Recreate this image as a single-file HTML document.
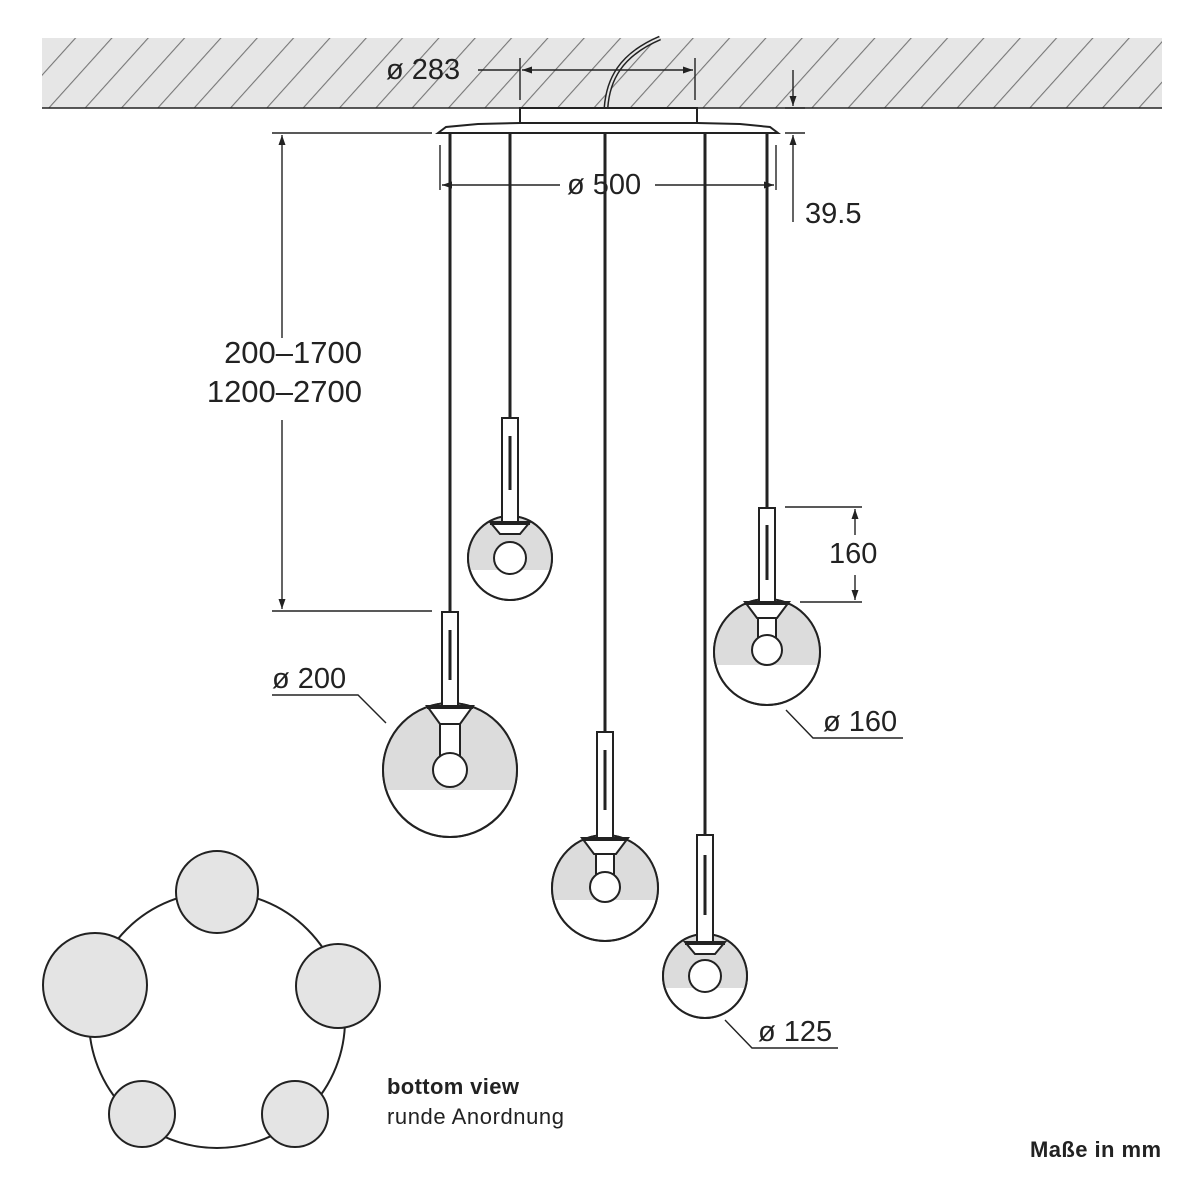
<!DOCTYPE html>
<html><head><meta charset="utf-8"><style>
html,body{margin:0;padding:0;background:#fff;}
svg{display:block;}
text{font-family:"Liberation Sans",Arial,sans-serif;fill:#222;}
</style></head><body>
<svg width="1200" height="1200" viewBox="0 0 1200 1200" xmlns="http://www.w3.org/2000/svg">
<defs>
<pattern id="h" patternUnits="userSpaceOnUse" width="27" height="27" patternTransform="rotate(42)">
<rect width="27" height="27" fill="#e6e6e6"/>
<line x1="0" y1="0" x2="0" y2="27" stroke="#777" stroke-width="2.2"/>
</pattern>
<marker id="a" viewBox="0 0 10 10" refX="10" refY="5" markerWidth="12" markerHeight="10" orient="auto-start-reverse" markerUnits="userSpaceOnUse">
<path d="M0,1.5 L10,5 L0,8.5 Z" fill="#222"/>
</marker>
<clipPath id="c1"><circle cx="450" cy="770" r="67"/></clipPath>
<clipPath id="c2"><circle cx="510" cy="558" r="42"/></clipPath>
<clipPath id="c3"><circle cx="605" cy="888" r="53"/></clipPath>
<clipPath id="c4"><circle cx="705" cy="976" r="42"/></clipPath>
<clipPath id="c5"><circle cx="767" cy="652" r="53"/></clipPath>
</defs>
<!-- ceiling -->
<rect x="42" y="38" width="1120" height="70" fill="url(#h)"/>
<line x1="42" y1="108" x2="1162" y2="108" stroke="#222" stroke-width="1.5"/>
<!-- cable -->
<path d="M606,108 C608,80 620,55 660,38" fill="none" stroke="#222" stroke-width="5"/>
<path d="M606,108 C608,80 620,55 660,38" fill="none" stroke="#e6e6e6" stroke-width="2"/>
<!-- canopy -->
<rect x="520" y="108" width="177" height="16" fill="#fff" stroke="#222" stroke-width="2"/>
<path d="M438,133 L446,127 L478,124 L520,123 L697,123 L740,124 L770,127 L778,133 Z" fill="#fff" stroke="#222" stroke-width="2"/>
<line x1="440" y1="133" x2="776" y2="133" stroke="#222" stroke-width="2"/>

<g stroke="#222" stroke-width="1.4" fill="none">
<line x1="520" y1="58" x2="520" y2="100"/>
<line x1="695" y1="58" x2="695" y2="100"/>
<line x1="478" y1="70" x2="520" y2="70"/>
<line x1="522" y1="70" x2="693" y2="70" marker-start="url(#a)" marker-end="url(#a)"/>
<line x1="440" y1="145" x2="440" y2="190"/>
<line x1="776" y1="145" x2="776" y2="190"/>
<line x1="442" y1="185" x2="560" y2="185" marker-start="url(#a)"/>
<line x1="655" y1="185" x2="774" y2="185" marker-end="url(#a)"/>
<line x1="793" y1="70" x2="793" y2="106" marker-end="url(#a)"/>
<line x1="785" y1="108" x2="805" y2="108"/>
<line x1="785" y1="133" x2="805" y2="133"/>
<line x1="793" y1="222" x2="793" y2="135" marker-end="url(#a)"/>
<line x1="272" y1="133" x2="432" y2="133"/>
<line x1="272" y1="611" x2="432" y2="611"/>
<line x1="282" y1="338" x2="282" y2="135" marker-end="url(#a)"/>
<line x1="282" y1="420" x2="282" y2="609" marker-end="url(#a)"/>
<line x1="785" y1="507" x2="862" y2="507"/>
<line x1="800" y1="602" x2="862" y2="602"/>
<line x1="855" y1="535" x2="855" y2="509" marker-end="url(#a)"/>
<line x1="855" y1="575" x2="855" y2="600" marker-end="url(#a)"/>
<polyline points="272,695 358,695 386,723"/>
<polyline points="786,710 813,738 903,738"/>
<polyline points="725,1020 752,1048 838,1048"/>
</g>

<text x="386" y="79" font-size="29">ø 283</text>
<text x="567" y="194" font-size="29">ø 500</text>
<text x="805" y="223" font-size="29">39.5</text>
<text x="362" y="363" font-size="31" text-anchor="end">200–1700</text>
<text x="362" y="402" font-size="31" text-anchor="end">1200–2700</text>
<text x="829" y="563" font-size="29">160</text>
<text x="272" y="688" font-size="29">ø 200</text>
<text x="823" y="731" font-size="29">ø 160</text>
<text x="758" y="1041" font-size="29">ø 125</text>

<g stroke="#222" stroke-width="3">
<line x1="450" y1="133" x2="450" y2="612"/>
<line x1="510" y1="133" x2="510" y2="418"/>
<line x1="605" y1="133" x2="605" y2="732"/>
<line x1="705" y1="133" x2="705" y2="835"/>
<line x1="767" y1="133" x2="767" y2="508"/>
</g>

<!-- pendant 1 -->
<g stroke="#222" stroke-width="2">
<circle cx="450" cy="770" r="67" fill="#fff"/>
<rect x="380" y="700" width="140" height="90" fill="#dcdcdc" stroke="none" clip-path="url(#c1)"/>
<circle cx="450" cy="770" r="67" fill="none"/>
<rect x="442" y="612" width="16" height="94" fill="#fff"/>
<line x1="450" y1="630" x2="450" y2="680" stroke-width="3"/>
<path d="M427,706 L473,706 L460,724 L440,724 Z" fill="#fff"/>
<line x1="427" y1="707" x2="473" y2="707" stroke-width="4"/>
<rect x="440" y="724" width="20" height="33" fill="#fff"/>
<circle cx="450" cy="770" r="17" fill="#fff"/>
</g>
<!-- pendant 2 -->
<g stroke="#222" stroke-width="2">
<circle cx="510" cy="558" r="42" fill="#fff"/>
<rect x="465" y="512" width="90" height="58" fill="#dcdcdc" stroke="none" clip-path="url(#c2)"/>
<circle cx="510" cy="558" r="42" fill="none"/>
<rect x="502" y="418" width="16" height="104" fill="#fff"/>
<line x1="510" y1="436" x2="510" y2="490" stroke-width="3"/>
<path d="M490,522 L530,522 L520,534 L500,534 Z" fill="#fff"/>
<line x1="490" y1="523" x2="530" y2="523" stroke-width="4"/>
<circle cx="510" cy="558" r="16" fill="#fff"/>
</g>
<!-- pendant 3 -->
<g stroke="#222" stroke-width="2">
<circle cx="605" cy="888" r="53" fill="#fff"/>
<rect x="550" y="830" width="110" height="70" fill="#dcdcdc" stroke="none" clip-path="url(#c3)"/>
<circle cx="605" cy="888" r="53" fill="none"/>
<rect x="597" y="732" width="16" height="106" fill="#fff"/>
<line x1="605" y1="750" x2="605" y2="810" stroke-width="3"/>
<path d="M582,838 L628,838 L616,854 L594,854 Z" fill="#fff"/>
<line x1="582" y1="839" x2="628" y2="839" stroke-width="4"/>
<rect x="596" y="854" width="18" height="20" fill="#fff"/>
<circle cx="605" cy="887" r="15" fill="#fff"/>
</g>
<!-- pendant 4 -->
<g stroke="#222" stroke-width="2">
<circle cx="705" cy="976" r="42" fill="#fff"/>
<rect x="660" y="930" width="90" height="58" fill="#dcdcdc" stroke="none" clip-path="url(#c4)"/>
<circle cx="705" cy="976" r="42" fill="none"/>
<rect x="697" y="835" width="16" height="107" fill="#fff"/>
<line x1="705" y1="855" x2="705" y2="915" stroke-width="3"/>
<path d="M685,942 L725,942 L715,954 L695,954 Z" fill="#fff"/>
<line x1="685" y1="943" x2="725" y2="943" stroke-width="4"/>
<circle cx="705" cy="976" r="16" fill="#fff"/>
</g>
<!-- pendant 5 -->
<g stroke="#222" stroke-width="2">
<circle cx="767" cy="652" r="53" fill="#fff"/>
<rect x="712" y="595" width="110" height="70" fill="#dcdcdc" stroke="none" clip-path="url(#c5)"/>
<circle cx="767" cy="652" r="53" fill="none"/>
<rect x="759" y="508" width="16" height="94" fill="#fff"/>
<line x1="767" y1="525" x2="767" y2="580" stroke-width="3"/>
<path d="M745,602 L789,602 L777,618 L757,618 Z" fill="#fff"/>
<line x1="745" y1="603" x2="789" y2="603" stroke-width="4"/>
<rect x="758" y="618" width="18" height="20" fill="#fff"/>
<circle cx="767" cy="650" r="15" fill="#fff"/>
</g>

<!-- bottom view -->
<g stroke="#222" stroke-width="2">
<circle cx="217" cy="1020" r="128" fill="none"/>
<circle cx="217" cy="892" r="41" fill="#e4e4e4"/>
<circle cx="95" cy="985" r="52" fill="#e4e4e4"/>
<circle cx="338" cy="986" r="42" fill="#e4e4e4"/>
<circle cx="142" cy="1114" r="33" fill="#e4e4e4"/>
<circle cx="295" cy="1114" r="33" fill="#e4e4e4"/>
</g>
<text x="387" y="1094" font-size="22" font-weight="bold" textLength="132">bottom view</text>
<text x="387" y="1124" font-size="22" fill="#444" textLength="177">runde Anordnung</text>
<text x="1030" y="1157" font-size="22" font-weight="bold" textLength="131">Maße in mm</text>
</svg>
</body></html>
